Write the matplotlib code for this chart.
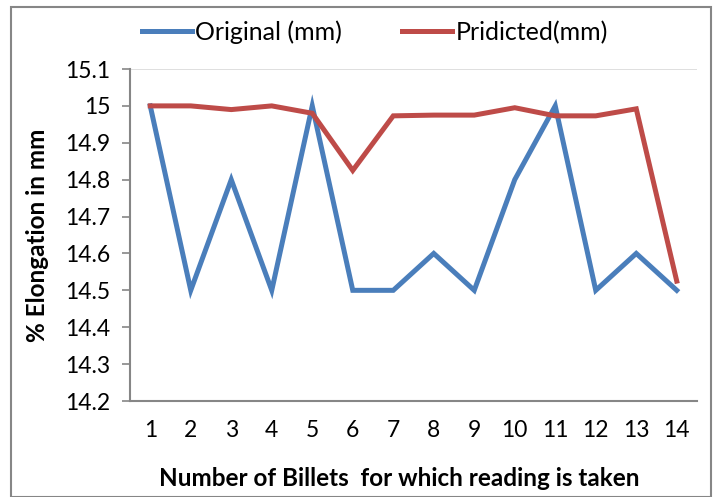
import matplotlib
matplotlib.use("Agg")
import matplotlib.pyplot as plt
from matplotlib.lines import Line2D
from matplotlib.patches import Rectangle

billets = list(range(1, 15))
original = [15.0, 14.5, 14.8, 14.5, 15.0, 14.5, 14.5, 14.6, 14.5, 14.8, 15.0, 14.5, 14.6, 14.5]
predicted = [15.0, 15.0, 14.99, 15.0, 14.98, 14.825, 14.973, 14.975, 14.975, 14.995, 14.973, 14.973, 14.992, 14.525]
yticks = [14.2, 14.3, 14.4, 14.5, 14.6, 14.7, 14.8, 14.9, 15.0, 15.1]
ytick_labels = ["14.2", "14.3", "14.4", "14.5", "14.6", "14.7", "14.8", "14.9", "15", "15.1"]

plt.rcParams['font.family'] = ['Lato', 'DejaVu Sans']
blue = "#4A7EBB"
red = "#BE4B48"

fig = plt.figure(figsize=(7.18, 4.97), dpi=100)
ax = fig.add_axes([130/718, 1-401/497, (697-130)/718, (401-69)/497])

ax.plot(billets, original, color=blue, lw=3.6, solid_joinstyle='miter', label="Original (mm)")
ax.plot(billets, predicted, color=red, lw=3.6, solid_joinstyle='miter', label="Pridicted(mm)")

ax.set_xlim(0.5, 14.5)
ax.set_ylim(14.2, 15.1)
ax.set_yticks(yticks)
ax.set_yticklabels(ytick_labels, fontsize=16.5)
ax.set_xticks(billets)
ax.set_xticklabels([str(b) for b in billets], fontsize=16.5)
ax.tick_params(axis='x', length=0, pad=14)
ax.tick_params(axis='y', length=6, width=1.2, color="#868686", pad=8)
ax.axhline(15.1, color="#D9D9D9", lw=1.2, zorder=0)
for s in ['top', 'right']:
    ax.spines[s].set_visible(False)
for s in ['left', 'bottom']:
    ax.spines[s].set_color("#868686")
    ax.spines[s].set_linewidth(1.5)

fig.text(399/718, 1-478/497, "Number of Billets  for which reading is taken", fontsize=17.5,
         fontweight='bold', ha='center', va='center')
ax.set_ylabel("% Elongation in mm", fontsize=17.5, fontweight='bold', labelpad=12)

handles = [Line2D([], [], color=blue, lw=3.6), Line2D([], [], color=red, lw=3.6)]
fig.legend(handles, ["Original (mm)", "Pridicted(mm)"], loc='center', bbox_to_anchor=(375/718, 1-32/497),
           ncol=2, frameon=False, fontsize=18, handlelength=2.0, handletextpad=0.15, columnspacing=2.4)

fig.patches.append(Rectangle((11/718, 0), (711-11)/718, 1-7/497, transform=fig.transFigure,
                             fill=False, edgecolor="#868686", lw=1.5))

fig.savefig("out.png", dpi=100)
